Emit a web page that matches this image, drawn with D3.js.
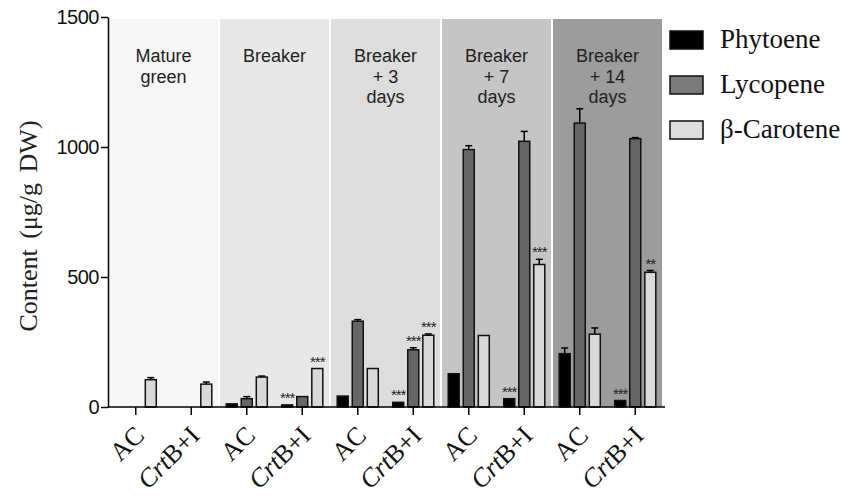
<!DOCTYPE html>
<html>
<head>
<meta charset="utf-8">
<script src="https://cdnjs.cloudflare.com/ajax/libs/d3/7.8.5/d3.min.js"></script>
<style>
  body { margin: 0; background: #fff; }
  svg { display: block; }
</style>
</head>
<body>
<div id="chart"></div>
<script>
// ripening stages (panel titles, one line per entry)
const stages = [
  ["Mature", "green"],
  ["Breaker"],
  ["Breaker", "+ 3", "days"],
  ["Breaker", "+ 7", "days"],
  ["Breaker", "+ 14", "days"]
];
const stageFills = ["#f6f6f6", "#e8e8e8", "#dddddd", "#c5c5c5", "#9c9c9c"];
const genotypes = ["AC", "CrtB+I"];
const seriesNames = ["Phytoene", "Lycopene", "β-Carotene"];
const seriesFills = ["#000000", "#666666", "#d9d9d9"];
const legendFills = ["#000000", "#7a7a7a", "#dedede"];

// values in order: stage by stage, AC then CrtB+I
const phytoene    = [0, 0,  12, 8,   42, 18,   128, 32,   205, 25];
const phytoeneErr = [0, 0,  0, 0,    0, 0,     0, 0,      22, 0];
const lycopene    = [0, 0,  32, 40,  330, 220, 990, 1022, 1092, 1032];
const lycopeneErr = [0, 0,  8, 0,    6, 8,     15, 38,    55, 4];
const betaCarotene= [105, 88, 115, 148, 148, 276, 275, 548, 280, 518];
const betaErr     = [8, 8,  4, 0,    0, 5,     0, 20,     24, 7];
const phytoeneSig = ["", "", "", "***", "", "***", "", "***", "", "***"];
const lycopeneSig = ["", "", "", "", "", "***", "", "", "", ""];
const betaSig     = ["", "", "", "***", "", "***", "", "***", "", "**"];

const yTicks = [0, 500, 1000, 1500];

const values = [phytoene, lycopene, betaCarotene];
const errors = [phytoeneErr, lycopeneErr, betaErr];
const sigs = [phytoeneSig, lycopeneSig, betaSig];

const width = 843, height = 500;
const svg = d3.select("#chart").append("svg")
  .attr("width", width).attr("height", height);

const plotLeft = 108, plotRight = 663, plotTop = 17, plotBottom = 407;

const y = d3.scaleLinear().domain([0, 1500]).range([plotBottom, plotTop]);

const xStage = d3.scaleBand()
  .domain(d3.range(stages.length))
  .range([plotLeft, plotRight]);

const xGroup = d3.scaleBand()
  .domain(genotypes)
  .range([0, xStage.bandwidth()])
  .paddingInner(0.26)
  .paddingOuter(0.13);

const xSeries = d3.scaleBand()
  .domain(seriesNames)
  .range([0, xGroup.bandwidth()])
  .paddingInner(0.27);

// panel backgrounds
svg.append("g").selectAll("rect")
  .data(stages)
  .join("rect")
  .attr("x", (d, i) => xStage(i) + (i === 0 ? 0 : 1))
  .attr("y", y(1500) + 2)
  .attr("width", (d, i) => xStage.bandwidth() - (i === 0 ? 1 : 2))
  .attr("height", y(0) - y(1500) - 2)
  .attr("fill", (d, i) => stageFills[i]);

// panel titles
stages.forEach((lines, i) => {
  const t = svg.append("text")
    .attr("x", xStage(i) + xStage.bandwidth() / 2)
    .attr("y", 62)
    .attr("text-anchor", "middle")
    .attr("font-family", "Arial, 'Liberation Sans', sans-serif")
    .attr("font-size", "18px")
    .attr("fill", "#222");
  lines.forEach((l, j) => {
    t.append("tspan")
      .attr("x", xStage(i) + xStage.bandwidth() / 2)
      .attr("dy", j === 0 ? 0 : 20.5)
      .text(l);
  });
});

// flatten bars
const bars = [];
stages.forEach((s, si) => {
  genotypes.forEach((g, gi) => {
    const k = si * 2 + gi;
    seriesNames.forEach((name, ni) => {
      bars.push({
        stage: si, geno: g, series: name, idx: ni,
        value: values[ni][k], err: errors[ni][k], sig: sigs[ni][k]
      });
    });
  });
});

const barX = d => xStage(d.stage) + xGroup(d.geno) + xSeries(d.series);
const bw = xSeries.bandwidth();

const drawn = bars.filter(d => d.value > 0);

// error bars (upper only)
const eb = svg.append("g").attr("stroke", "#000").attr("stroke-width", 1.5);
drawn.filter(d => d.err > 0).forEach(d => {
  const cx = barX(d) + bw / 2;
  eb.append("line")
    .attr("x1", cx).attr("x2", cx)
    .attr("y1", y(d.value)).attr("y2", y(d.value + d.err));
  eb.append("line")
    .attr("x1", cx - 3.5).attr("x2", cx + 3.5)
    .attr("y1", y(d.value + d.err)).attr("y2", y(d.value + d.err));
});

svg.append("g").selectAll("rect")
  .data(drawn)
  .join("rect")
  .attr("x", barX)
  .attr("y", d => y(d.value))
  .attr("width", bw)
  .attr("height", d => y(0) - y(d.value))
  .attr("fill", d => seriesFills[d.idx])
  .attr("stroke", "#111")
  .attr("stroke-width", 1.5);

// significance stars
svg.append("g").selectAll("text")
  .data(bars.filter(d => d.sig))
  .join("text")
  .attr("x", d => barX(d) + bw / 2)
  .attr("y", d => y(d.value + d.err) - 2)
  .attr("text-anchor", "middle")
  .attr("font-family", "Arial, sans-serif")
  .attr("font-size", "15px")
  .attr("letter-spacing", "-1px")
  .attr("fill", "#222")
  .text(d => d.sig);

// y axis
const yAxis = svg.append("g")
  .attr("transform", `translate(${plotLeft},0)`)
  .call(d3.axisLeft(y).tickValues(yTicks).tickFormat(d3.format("d"))
    .tickSize(7).tickSizeOuter(0).tickPadding(2));
yAxis.select(".domain").attr("stroke-width", 1.5);
yAxis.selectAll(".tick line").attr("stroke-width", 1.5);
yAxis.selectAll(".tick text")
  .attr("font-family", "Arial, 'Liberation Sans', sans-serif")
  .attr("font-size", "20px")
  .attr("letter-spacing", "-0.5px")
  .attr("fill", "#111");

// x axis
const xAxisG = svg.append("g").attr("transform", `translate(0,${plotBottom})`);
xAxisG.append("line")
  .attr("x1", plotLeft).attr("x2", plotRight + 2)
  .attr("stroke", "#000").attr("stroke-width", 1.5);
const groupCenters = [];
stages.forEach((s, si) => genotypes.forEach(g => {
  groupCenters.push({ x: xStage(si) + xGroup(g) + xGroup.bandwidth() / 2, g });
}));
xAxisG.selectAll(".xt")
  .data(groupCenters)
  .join("line")
  .attr("x1", d => d.x).attr("x2", d => d.x)
  .attr("y1", 0).attr("y2", 8)
  .attr("stroke", "#000").attr("stroke-width", 1.5);
const xl = xAxisG.selectAll(".xl")
  .data(groupCenters)
  .join("text")
  .attr("transform", d => `translate(${d.x + 10},${30}) rotate(-45)`)
  .attr("text-anchor", "end")
  .attr("font-family", "'Times New Roman', 'Liberation Serif', serif")
  .attr("font-size", "26px")
  .attr("fill", "#111");
xl.each(function (d) {
  const t = d3.select(this);
  if (d.g === "AC") {
    t.text("AC");
  } else {
    t.append("tspan").attr("font-style", "italic").text("Crt");
    t.append("tspan").text("B+I");
  }
});

// y title
svg.append("text")
  .attr("transform", `translate(37,226) rotate(-90)`)
  .attr("text-anchor", "middle")
  .attr("font-family", "'Times New Roman', 'Liberation Serif', serif")
  .attr("font-size", "26px")
  .attr("word-spacing", "4px")
  .attr("fill", "#222")
  .text("Content (μg/g DW)");

// legend
const legend = svg.append("g");
seriesNames.forEach((name, i) => {
  const cy = 40 + i * 45;
  legend.append("rect")
    .attr("x", 670).attr("y", cy - 9)
    .attr("width", 33).attr("height", 18)
    .attr("fill", legendFills[i])
    .attr("stroke", "#111").attr("stroke-width", 1.5);
  legend.append("text")
    .attr("x", 720).attr("y", cy + 8)
    .attr("font-family", "'Times New Roman', 'Liberation Serif', serif")
    .attr("font-size", "27px")
    .attr("fill", "#111")
    .text(name);
});
</script>
</body>
</html>
